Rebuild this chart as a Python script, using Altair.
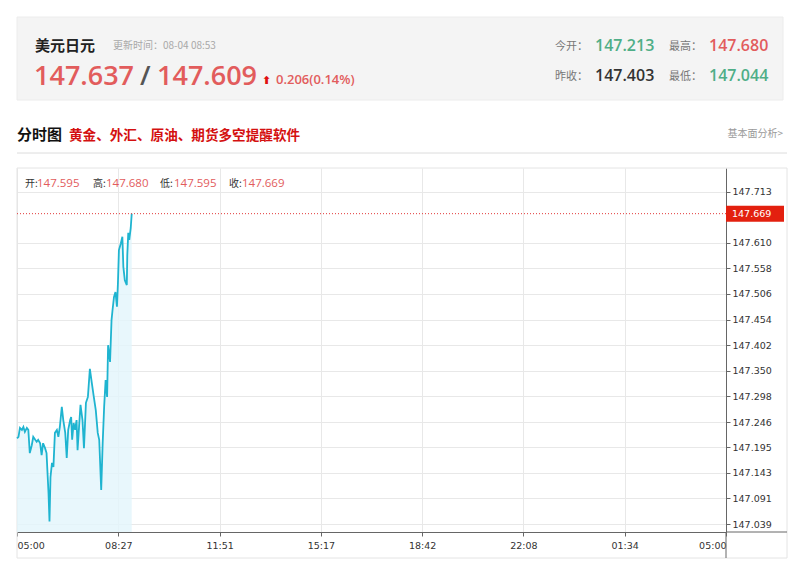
import json
import altair as alt
import pandas as pd

# USD/JPY intraday quotes: minutes after 05:00 and price
minutes = [0, 3, 6, 10, 13, 16, 20, 23, 26, 30,
           33, 37, 40, 43, 47, 50, 53, 57, 60, 64,
           66, 68, 71, 74, 77, 81, 84, 87, 91, 94,
           98, 101, 104, 108, 110, 112, 115, 118, 121, 123,
           126, 129, 133, 136, 140, 144, 148, 152, 156, 160,
           164, 167, 171, 174, 177, 180, 183, 185, 189, 192,
           194, 197, 200, 203, 205, 207, 211, 214, 216, 219,
           223, 224, 226, 228, 231, 233]
prices = [147.213, 147.216, 147.234, 147.230, 147.236, 147.226, 147.234, 147.230, 147.183, 147.199,
          147.216, 147.210, 147.206, 147.210, 147.203, 147.179, 147.203, 147.193, 147.183, 147.102,
          147.044, 147.134, 147.163, 147.155, 147.224, 147.230, 147.216, 147.236, 147.277, 147.250,
          147.224, 147.173, 147.230, 147.250, 147.256, 147.210, 147.244, 147.230, 147.250, 147.189,
          147.236, 147.281, 147.250, 147.193, 147.285, 147.297, 147.354, 147.325, 147.297, 147.270,
          147.224, 147.210, 147.108, 147.203, 147.277, 147.331, 147.297, 147.402, 147.368, 147.453,
          147.473, 147.500, 147.510, 147.480, 147.528, 147.595, 147.609, 147.622, 147.561, 147.534,
          147.524, 147.585, 147.630, 147.616, 147.640, 147.669]

time_labels = ["05:00", "08:27", "11:51", "15:17", "18:42", "22:08", "01:34", "05:00"]
price_ticks = [147.039, 147.091, 147.143, 147.195, 147.246, 147.298, 147.350,
               147.402, 147.454, 147.506, 147.558, 147.610, 147.713]
last_price = 147.669

SESSION = 1440
step = SESSION / 7
time_ticks = [i * step for i in range(8)]

RED = "#e25c5c"
GREEN = "#4fae87"
LINE = "#1fb4d0"
CJK = "Noto Sans CJK SC"
NUM = "Open Sans"

W, H = 709, 364
X0, Y0 = 17, 168  # plot origin on the page

df = pd.DataFrame({"m": minutes, "p": prices})

x_enc = alt.X(
    "m:Q",
    scale=alt.Scale(domain=[0, SESSION], nice=False, zero=False),
    axis=alt.Axis(
        values=time_ticks,
        labelExpr=f"{json.dumps(time_labels)}[round(datum.value / {step})]",
        labelFlush=True,
        labelOverlap=False,
        title=None,
        grid=True,
    ),
)
y_enc = alt.Y(
    "p:Q",
    scale=alt.Scale(domain=[147.0228, 147.7617], nice=False, zero=False),
    stack=None,
    axis=alt.Axis(orient="right", values=price_ticks, format=".3f", title=None,
                  grid=True, labelOverlap=False, labelBound=False),
)


def one(v="x"):
    return pd.DataFrame({"t": [v]})


def txt(s, x, y, size, color, weight="normal", font=CJK, align="left", baseline="alphabetic"):
    return alt.Chart(one(s)).mark_text(
        align=align, baseline=baseline, fontSize=size, color=color,
        fontWeight=weight, font=font,
    ).encode(text="t:N", x=alt.value(x - X0), y=alt.value(y - Y0))


def box(x1, x2, y1, y2, fill, stroke=None):
    kw = {"fill": fill}
    if stroke:
        kw["stroke"] = stroke
        kw["strokeWidth"] = 1
    return alt.Chart(one()).mark_rect(**kw).encode(
        x=alt.value(x1 - X0), x2=alt.value(x2 - X0),
        y=alt.value(y1 - Y0), y2=alt.value(y2 - Y0),
    )


def hline(x1, x2, y, color):
    return alt.Chart(one()).mark_rule(color=color, strokeWidth=1).encode(
        x=alt.value(x1 - X0), x2=alt.value(x2 - X0), y=alt.value(y - Y0)
    )


def vline(x, y1, y2, color):
    return alt.Chart(one()).mark_rule(color=color, strokeWidth=1).encode(
        x=alt.value(x - X0), y=alt.value(y1 - Y0), y2=alt.value(y2 - Y0)
    )


# price area (down to the bottom of the plot) and line
area = alt.Chart(df).mark_area(color="#e2f5fb", opacity=0.8).encode(
    x=x_enc, y=y_enc, y2=alt.value(H)
)
line = alt.Chart(df).mark_line(color=LINE, strokeWidth=1.8).encode(x=x_enc, y=y_enc)

last_df = pd.DataFrame({"p": [last_price], "lab": [f"{last_price:.3f}"]})
last_rule = alt.Chart(last_df).mark_rule(color="#e23a3a", strokeDash=[1, 2], strokeWidth=1).encode(
    y=y_enc
)
last_box = alt.Chart(last_df).mark_rect(color="#e3200f", yOffset=-8, y2Offset=8).encode(
    y=y_enc, y2="p:Q", x=alt.value(W), x2=alt.value(W + 58)
)
last_text = alt.Chart(last_df).mark_text(
    align="left", baseline="middle", color="white", font="DejaVu Sans", fontSize=9.5
).encode(y=y_enc, text="lab:N", x=alt.value(W + 6))

layers = [
    # header panel
    box(17, 783, 17, 100, "#f4f4f4", "#ececec"),
    txt("美元日元", 35, 51, 15, "#222", "bold"),
    txt("更新时间：08-04 08:53", 113, 49, 10, "#a8a8a8"),
    txt("147.637", 34, 85, 27, RED, 600, NUM),
    txt("/", 140, 85, 27, "#555", 600, NUM),
    txt("147.609", 157, 85, 27, RED, 600, NUM),
    txt("⬆", 262, 84, 11, "#e01010", "bold", "DejaVu Sans"),
    txt("0.206(0.14%)", 276, 84, 13, RED, 600, NUM),
    txt("今开：", 555, 50, 11, "#777"),
    txt("147.213", 595, 51, 16, GREEN, 600, NUM),
    txt("最高：", 669, 50, 11, "#777"),
    txt("147.680", 709, 51, 16, RED, 600, NUM),
    txt("昨收：", 555, 80, 11, "#777"),
    txt("147.403", 595, 81, 16, "#333", 600, NUM),
    txt("最低：", 669, 80, 11, "#777"),
    txt("147.044", 709, 81, 16, GREEN, 600, NUM),
    # section title
    txt("分时图", 17, 140, 15, "#111", "bold"),
    txt("黄金、外汇、原油、期货多空提醒软件", 69, 140, 13.6, "#d41010", "bold"),
    txt("基本面分析>", 783, 137, 10, "#9a9a9a", align="right"),
    hline(17, 787, 153, "#dcdcdc"),
    # chart frame
    box(17, 787, 168, 558, "transparent", "#e4e4e4"),
    area,
    line,
    last_rule,
    hline(726, 787, 532, "#666"),
    vline(726, 532, 558, "#666"),
    last_box,
    last_text,
    # OHLC summary row
    txt("开:", 25, 187, 10, "#333"),
    txt("147.595", 37, 187, 11.5, RED, "normal", NUM),
    txt("高:", 93, 187, 10, "#333"),
    txt("147.680", 106, 187, 11.5, RED, "normal", NUM),
    txt("低:", 160, 187, 10, "#333"),
    txt("147.595", 174, 187, 11.5, RED, "normal", NUM),
    txt("收:", 229, 187, 10, "#333"),
    txt("147.669", 242, 187, 11.5, RED, "normal", NUM),
]

chart = alt.layer(*layers).properties(
    width=W,
    height=H,
    autosize=alt.AutoSizeParams(type="none"),
    padding={"left": X0, "top": Y0, "right": 800 - X0 - W, "bottom": 581 - Y0 - H},
    background="white",
).configure_view(stroke=None).configure_axis(
    domainColor="#666",
    tickColor="#666",
    tickSize=4,
    gridColor="#e8e8e8",
    labelColor="#333",
    labelFont="DejaVu Sans",
    labelFontSize=9.5,
    labelPadding=2,
    labelOverlap=False,
).configure_axisX(labelPadding=4)

chart.save("out.html", embed_options={"renderer": "svg", "actions": False})
